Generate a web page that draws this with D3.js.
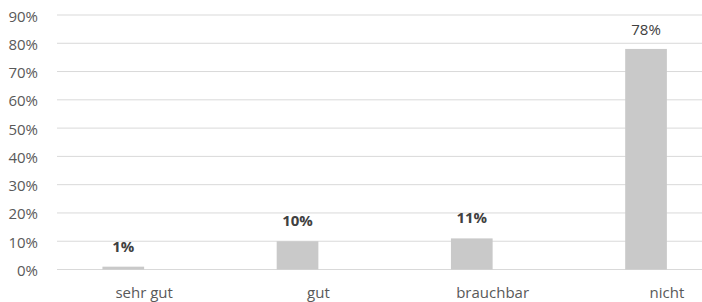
<!DOCTYPE html>
<html>
<head>
<meta charset="utf-8">
<script src="https://cdn.jsdelivr.net/npm/d3@7"></script>
<style>
  body { margin: 0; background: #fff; }
  #chart { width: 702px; height: 302px; }
  text { font-family: "Open Sans", sans-serif; }
</style>
</head>
<body>
<div id="chart"></div>
<script>
// data
let categories = ["sehr gut", "gut", "brauchbar", "nicht"];
let seriesKeys = ["Anteil", "leer"];          // second series is empty in the original
let values = [1, 10, 11, 78];                 // percent
let valueLabels = ["1%", "10%", "11%", "78%"];
let labelBold = [true, true, true, false];
let yTicks = [0, 10, 20, 30, 40, 50, 60, 70, 80, 90];

function createBarChart(selector) {
    d3.select("#" + selector).selectAll("*").remove();

    let width = 702, height = 302;
    let left = 57, right = 754, top = 15, bottom = 269.5;

    let svg = d3.select("#" + selector)
        .append("svg")
        .attr("width", width)
        .attr("height", height);

    let x0 = d3.scaleBand()
        .domain(categories)
        .range([left, right]);

    let x1 = d3.scaleBand()
        .domain(seriesKeys)
        .range([0, x0.bandwidth()])
        .paddingOuter(1.09);

    let y = d3.scaleLinear()
        .domain([0, 90])
        .range([bottom, top]);

    // gridlines
    svg.append("g")
        .selectAll("line")
        .data(yTicks)
        .enter().append("line")
        .attr("x1", left)
        .attr("x2", right)
        .attr("y1", d => y(d))
        .attr("y2", d => y(d))
        .style("stroke", "#d9d9d9")
        .style("stroke-width", 1);

    // y axis labels
    let yAxis = svg.append("g")
        .attr("transform", "translate(38,0)")
        .call(d3.axisLeft(y).tickValues(yTicks).tickSize(0).tickPadding(0).tickFormat(d => d + "%"));
    yAxis.select(".domain").remove();
    yAxis.selectAll("text")
        .attr("dy", "0.4em")
        .style("font-size", "15px")
        .style("fill", "#595959");

    // bars
    let bars = categories.map((c, i) => ({ cat: c, key: seriesKeys[0], value: values[i], label: valueLabels[i], bold: labelBold[i] }));

    svg.append("g")
        .selectAll("rect")
        .data(bars)
        .enter().append("rect")
        .attr("x", d => x0(d.cat) + x1(d.key))
        .attr("y", d => y(d.value))
        .attr("width", x1.bandwidth())
        .attr("height", d => y(0) - y(d.value))
        .style("fill", "#c9c9c9");

    // value labels
    svg.append("g")
        .selectAll("text")
        .data(bars)
        .enter().append("text")
        .attr("x", d => x0(d.cat) + x1(d.key) + x1.bandwidth() / 2)
        .attr("y", d => y(d.value) - (d.bold ? 15 : 13.5))
        .attr("text-anchor", "middle")
        .style("font-size", "15px")
        .style("font-weight", d => d.bold ? "bold" : "normal")
        .style("fill", "#404040")
        .text(d => d.label);

    // category labels
    let xAxis = svg.append("g")
        .attr("transform", "translate(0," + bottom + ")")
        .call(d3.axisBottom(x0).tickSize(0).tickPadding(0));
    xAxis.select(".domain").remove();
    xAxis.selectAll("text")
        .attr("y", 28.5)
        .attr("dy", 0)
        .style("font-size", "15px")
        .style("fill", "#595959");
}

createBarChart("chart");
</script>
</body>
</html>
